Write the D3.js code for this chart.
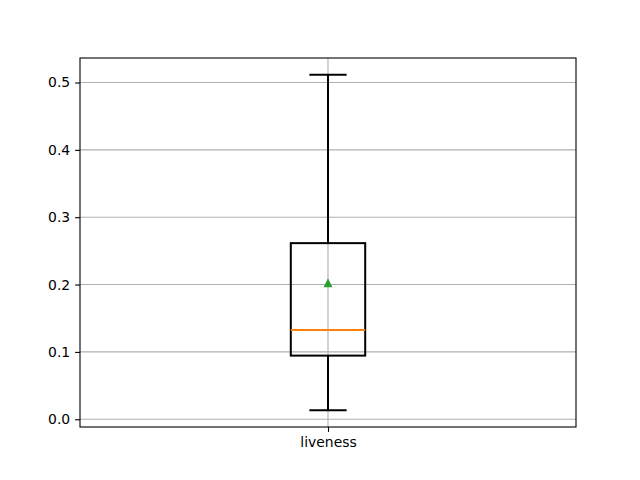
<!DOCTYPE html>
<html>
<head>
<meta charset="utf-8">
<script src="https://cdn.jsdelivr.net/npm/d3@7"></script>
<style>
  body { margin: 0; background: #fff; }
  text { font-family: "DejaVu Sans", sans-serif; }
</style>
</head>
<body>
<div id="chart"></div>
<script>
// boxplot stats for one column
var categories = ["liveness"];
var whiskerLow = [0.0134];
var q1 = [0.0945];
var median = [0.1325];
var q3 = [0.2615];
var whiskerHigh = [0.5115];
var means = [0.2018];
var yTicks = [0.0, 0.1, 0.2, 0.3, 0.4, 0.5];

var W = 640, H = 480;
var m = { left: 80, right: 64, top: 58, bottom: 53 };
var iw = W - m.left - m.right, ih = H - m.top - m.bottom;

var svg = d3.select('#chart').append('svg')
  .attr('width', W).attr('height', H);
var g = svg.append('g').attr('transform', 'translate(' + m.left + ',' + m.top + ')');

var x = d3.scaleLinear().domain([0.5, 1.5]).range([0, iw]);
var span = d3.max(whiskerHigh) - d3.min(whiskerLow);
var y = d3.scaleLinear()
  .domain([d3.min(whiskerLow) - span * 0.05, d3.max(whiskerHigh) + span * 0.05])
  .range([ih, 0]);

// grid
g.append('g').selectAll('line').data(yTicks).enter().append('line')
  .attr('x1', 0).attr('x2', iw)
  .attr('y1', function(d){ return y(d); }).attr('y2', function(d){ return y(d); })
  .attr('stroke', '#b0b0b0').attr('stroke-width', 1.1);
g.append('g').selectAll('line').data(categories).enter().append('line')
  .attr('x1', function(d, i){ return x(i + 1); }).attr('x2', function(d, i){ return x(i + 1); })
  .attr('y1', 0).attr('y2', ih)
  .attr('stroke', '#b0b0b0').attr('stroke-width', 1.1);

// axes
var yAxis = d3.axisLeft(y).tickValues(yTicks).tickFormat(d3.format('.1f')).tickSize(4.9).tickPadding(4.9);
var gy = g.append('g').call(yAxis);
var xAxis = d3.axisBottom(x).tickValues(categories.map(function(d, i){ return i + 1; }))
  .tickFormat(function(d){ return categories[d - 1]; }).tickSize(4.9).tickPadding(4.9);
var gx = g.append('g').attr('transform', 'translate(0,' + ih + ')').call(xAxis);
[gx, gy].forEach(function(a){
  a.select('.domain').remove();
  a.selectAll('text').attr('font-size', '13.9px').attr('fill', '#000')
    .attr('font-family', '"DejaVu Sans", sans-serif');
  a.selectAll('.tick line').attr('stroke', '#000').attr('stroke-width', 1.1);
});

var bw = 0.15, cw = 0.075;
var boxes = g.append('g').selectAll('g').data(categories).enter().append('g');

boxes.append('line')
  .attr('x1', function(d, i){ return x(i + 1); }).attr('x2', function(d, i){ return x(i + 1); })
  .attr('y1', function(d, i){ return y(q3[i]); }).attr('y2', function(d, i){ return y(whiskerHigh[i]); })
  .attr('stroke', '#000').attr('stroke-width', 2);
boxes.append('line')
  .attr('x1', function(d, i){ return x(i + 1); }).attr('x2', function(d, i){ return x(i + 1); })
  .attr('y1', function(d, i){ return y(q1[i]); }).attr('y2', function(d, i){ return y(whiskerLow[i]); })
  .attr('stroke', '#000').attr('stroke-width', 2);
[whiskerHigh, whiskerLow].forEach(function(arr){
  boxes.append('line')
    .attr('x1', function(d, i){ return x(i + 1 - cw / 2); }).attr('x2', function(d, i){ return x(i + 1 + cw / 2); })
    .attr('y1', function(d, i){ return y(arr[i]); }).attr('y2', function(d, i){ return y(arr[i]); })
    .attr('stroke', '#000').attr('stroke-width', 2);
});
boxes.append('rect')
  .attr('x', function(d, i){ return x(i + 1 - bw / 2); })
  .attr('width', function(){ return x(1 + bw / 2) - x(1 - bw / 2); })
  .attr('y', function(d, i){ return y(q3[i]); })
  .attr('height', function(d, i){ return y(q1[i]) - y(q3[i]); })
  .attr('fill', 'none').attr('stroke', '#000').attr('stroke-width', 2);
boxes.append('line')
  .attr('x1', function(d, i){ return x(i + 1 - bw / 2); }).attr('x2', function(d, i){ return x(i + 1 + bw / 2); })
  .attr('y1', function(d, i){ return y(median[i]); }).attr('y2', function(d, i){ return y(median[i]); })
  .attr('stroke', '#ff7f0e').attr('stroke-width', 2);
boxes.append('path')
  .attr('transform', function(d, i){ return 'translate(' + x(i + 1) + ',' + y(means[i]) + ')'; })
  .attr('d', 'M0,-5L4.5,4L-4.5,4Z')
  .attr('fill', '#2ca02c');

// frame
g.append('rect').attr('width', iw).attr('height', ih)
  .attr('fill', 'none').attr('stroke', '#000').attr('stroke-width', 1.1);
</script>
</body>
</html>
